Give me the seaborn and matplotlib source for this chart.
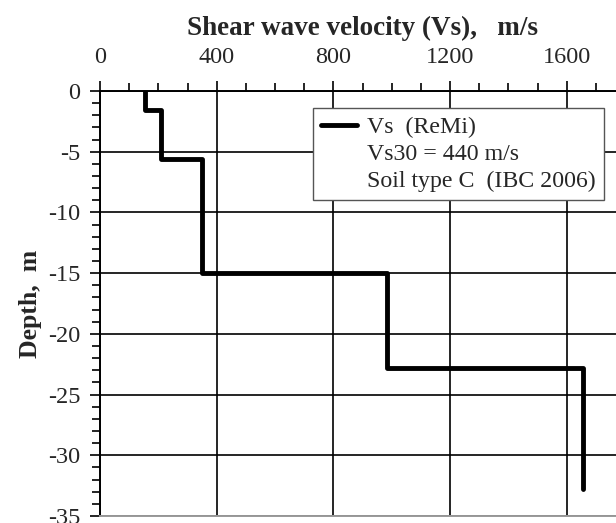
import numpy as np
import pandas as pd
import seaborn as sns
import matplotlib.pyplot as plt
from matplotlib.lines import Line2D
from matplotlib.ticker import MultipleLocator

# Step profile of shear wave velocity vs depth (ReMi)
layer_top = [0, -1.6, -5.6, -15.0, -22.8]
layer_bottom = [-1.6, -5.6, -15.0, -22.8, -32.8]
layer_vs = [155, 210, 350, 985, 1655]

# build step outline: each layer contributes its top and bottom point
depth = []
vs = []
for top, bot, v in zip(layer_top, layer_bottom, layer_vs):
    depth += [top, bot]
    vs += [v, v]
profile = pd.DataFrame({"vs": vs, "depth": depth})

sns.set_style("white")
plt.rcParams["font.family"] = ["Liberation Serif", "DejaVu Serif"]
plt.rcParams["axes.unicode_minus"] = False

fig = plt.figure(figsize=(6.16, 5.23), dpi=100)
ax = fig.add_axes([100 / 616, 7 / 523, 525 / 616, 425 / 523])

sns.lineplot(data=profile, x="vs", y="depth", sort=False, estimator=None,
             color="black", linewidth=3.5, ax=ax, legend=False)

ax.set_xlim(0, 1800)
ax.set_ylim(-35, 0)
ax.xaxis.set_major_locator(MultipleLocator(400))
ax.xaxis.set_minor_locator(MultipleLocator(100))
ax.yaxis.set_major_locator(MultipleLocator(5))
ax.yaxis.set_minor_locator(MultipleLocator(1))
ax.xaxis.tick_top()
ax.xaxis.set_label_position("top")
ax.tick_params(axis="x", which="both", direction="out", top=True, bottom=False,
               labelsize=17.5, pad=9.5, color="black")
ax.tick_params(axis="y", which="both", direction="out", left=True, right=False,
               labelsize=17.5, pad=7, color="black")
ax.tick_params(which="major", length=7, width=1.2)
ax.tick_params(which="minor", length=6, width=1.2)
ax.grid(True, which="major", color="black", linewidth=1.2)
ax.set_axisbelow(True)

for side in ["top", "left"]:
    ax.spines[side].set_color("black")
    ax.spines[side].set_linewidth(1.4)
ax.spines["bottom"].set_color("#999999")
ax.spines["bottom"].set_linewidth(1.4)
ax.spines["right"].set_visible(False)

ax.set_xlabel("Shear wave velocity (Vs),   m/s", fontsize=19.5, fontweight="bold", labelpad=9)
ax.set_ylabel("Depth,  m", fontsize=18.5, fontweight="bold", labelpad=4)

handles = [Line2D([], [], color="black", linewidth=3.5),
           Line2D([], [], color="none"),
           Line2D([], [], color="none")]
labels = ["Vs  (ReMi)", "Vs30 = 440 m/s", "Soil type C  (IBC 2006)"]
leg = ax.legend(handles, labels, loc="upper left", bbox_to_anchor=(313 / 616, (523 - 108) / 523),
                bbox_transform=fig.transFigure, fontsize=17.2, frameon=True, fancybox=False,
                handlelength=1.5, handletextpad=0.4, labelspacing=0.22, borderpad=0.35,
                borderaxespad=0)
leg.get_frame().set_edgecolor("#555555")
leg.get_frame().set_linewidth(1.0)
leg.get_frame().set_alpha(1)

fig.savefig("out.png", dpi=100)
